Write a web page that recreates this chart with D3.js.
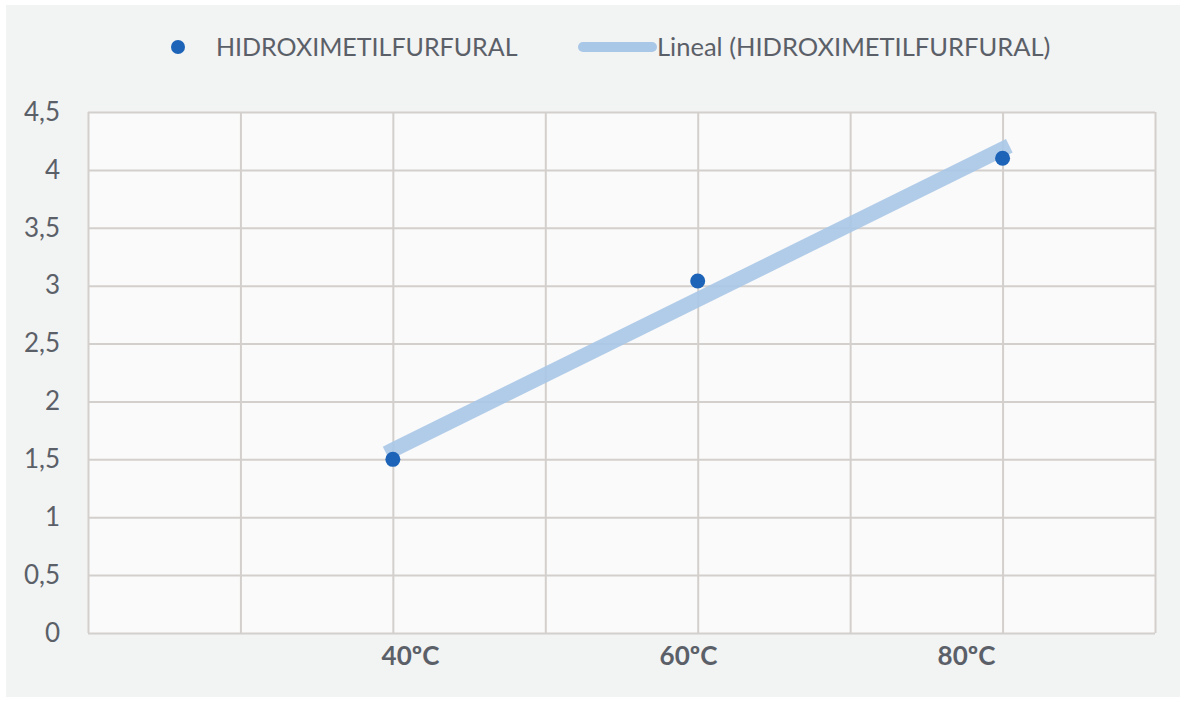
<!DOCTYPE html>
<html>
<head>
<meta charset="utf-8">
<script src="https://cdn.jsdelivr.net/npm/d3@7"></script>
<style>
  html, body { margin: 0; padding: 0; background: #ffffff; }
  svg { display: block; }
  text { font-family: Lato, "Open Sans", "Liberation Sans", sans-serif; }
</style>
</head>
<body>
<svg id="chart" width="1186" height="702"></svg>
<script>
// Series: HMF content at each temperature
const categories = ["40ºC", "60ºC", "80ºC"];
const temperatures = [40, 60, 80];
const hmfValues = [1.5, 3.04, 4.1];
const yTicks = [0, 0.5, 1, 1.5, 2, 2.5, 3, 3.5, 4, 4.5];
const xGrid = [20, 30, 40, 50, 60, 70, 80, 90];
const seriesName = "HIDROXIMETILFURFURAL";
const trendName = "Lineal (HIDROXIMETILFURFURAL)";

const svg = d3.select("#chart");
const plot = { left: 88, right: 1155, top: 112, bottom: 633 };
const textColor = "#5b6068";

// card background
svg.append("rect").attr("x", 6).attr("y", 5).attr("width", 1174).attr("height", 692)
  .attr("fill", "#f2f3f3");

const x = d3.scaleLinear().domain([20, 90]).range([plot.left, plot.right]);
const y = d3.scaleLinear().domain([0, 4.5]).range([plot.bottom, plot.top]);

svg.append("rect")
  .attr("x", plot.left).attr("y", plot.top)
  .attr("width", plot.right - plot.left).attr("height", plot.bottom - plot.top)
  .attr("fill", "#fafafa");

const gridColor = "#d3cfcc";

// horizontal grid + y labels
const yAxis = d3.axisLeft(y).tickValues(yTicks)
  .tickSize(-(plot.right - plot.left)).tickPadding(28)
  .tickFormat(d => String(d).replace(".", ","));
const gy = svg.append("g").attr("transform", `translate(${plot.left},0)`).call(yAxis);
gy.select(".domain").remove();
gy.selectAll(".tick line").attr("stroke", gridColor).attr("stroke-width", 2);
gy.selectAll(".tick text").attr("fill", textColor).attr("font-size", 26)
  .attr("font-family", "Lato, 'Open Sans', sans-serif");

// vertical grid
const xAxis = d3.axisBottom(x).tickValues(xGrid)
  .tickSize(-(plot.bottom - plot.top)).tickFormat("");
const gx = svg.append("g").attr("transform", `translate(0,${plot.bottom})`).call(xAxis);
gx.select(".domain").remove();
gx.selectAll(".tick line").attr("stroke", gridColor).attr("stroke-width", 2);

// category labels along the bottom
const labelScale = d3.scalePoint().domain(categories).range([410, 966]);
const labelAxis = d3.axisBottom(labelScale).tickSize(0).tickPadding(14);
const gl = svg.append("g").attr("transform", `translate(0,${plot.bottom})`).call(labelAxis);
gl.select(".domain").remove();
gl.selectAll(".tick text").attr("fill", textColor).attr("font-size", 26)
  .attr("font-weight", "bold")
  .attr("font-family", "Lato, 'Open Sans', sans-serif");

// linear trend (least squares)
const n = temperatures.length;
const mx = d3.mean(temperatures), my = d3.mean(hmfValues);
const slope = d3.sum(temperatures.map((t, i) => (t - mx) * (hmfValues[i] - my))) /
              d3.sum(temperatures.map(t => (t - mx) ** 2));
const intercept = my - slope * mx;
const trendPts = [temperatures[0], temperatures[n - 1]].map(t => [t, intercept + slope * t]);

const trendColor = "#a9c7e7";
svg.append("path")
  .datum(trendPts)
  .attr("d", d3.line().x(d => x(d[0])).y(d => y(d[1])))
  .attr("fill", "none").attr("stroke", trendColor).attr("stroke-width", 15)
  .attr("stroke-linecap", "square").attr("opacity", 0.9);

// points
const dotColor = "#1d64b8";
svg.append("g").selectAll("circle")
  .data(temperatures)
  .join("circle")
  .attr("cx", d => x(d))
  .attr("cy", (d, i) => y(hmfValues[i]))
  .attr("r", 7.5)
  .attr("fill", dotColor);

// legend
const legend = svg.append("g");
legend.append("circle").attr("cx", 178).attr("cy", 47).attr("r", 7).attr("fill", dotColor);
legend.append("text").attr("x", 216).attr("y", 56).attr("font-size", 25)
  .attr("fill", textColor).text(seriesName);
legend.append("line").attr("x1", 583).attr("x2", 652).attr("y1", 47).attr("y2", 47)
  .attr("stroke", trendColor).attr("stroke-width", 10).attr("stroke-linecap", "round");
legend.append("text").attr("x", 657).attr("y", 56).attr("font-size", 25.5)
  .attr("fill", textColor).text(trendName);
</script>
</body>
</html>
